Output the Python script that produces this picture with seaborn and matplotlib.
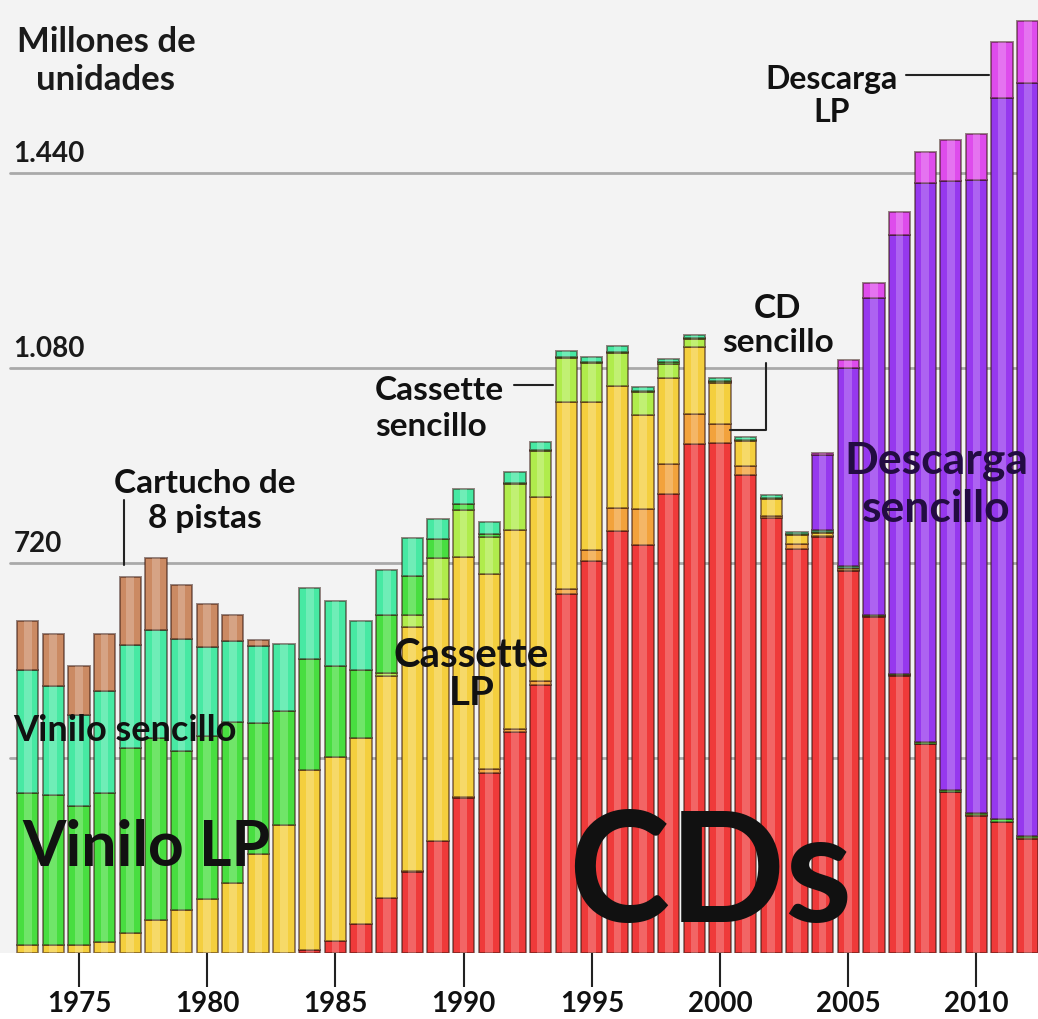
import numpy as np
import pandas as pd
import matplotlib.pyplot as plt
import seaborn as sns

# --- Datos: ventas de música en EE.UU., millones de unidades ---
years = list(range(1973, 2013))

cd = [0, 0, 0, 0, 0, 0, 0, 0, 0, 0,
      0, 5.8, 22.6, 53, 102, 150, 207, 287, 333, 407,
      495, 662, 723, 779, 753, 847, 939, 942, 882, 803,
      746, 767, 705, 620, 511, 385, 297, 253, 241, 211]
cd_single = [0, 0, 0, 0, 0, 0, 0, 0, 0, 0,
             0, 0, 0, 0, 0, 1.6, 0, 1.1, 5.7, 7.3,
             7.8, 9.3, 21.5, 43.2, 66.7, 56, 55.9, 34.2, 17.3, 4.5,
             8.3, 3.1, 2.8, 1.7, 2.6, 0.7, 1, 1, 1, 0.5]
cassette_lp = [14, 14, 14, 21, 37, 61, 80, 100, 130, 182,
               236, 332, 339, 344, 410, 450, 446, 442, 360, 366,
               339, 345, 273, 225, 173, 158, 124, 76, 45, 31,
               17, 5, 2.5, 0.7, 0.4, 0, 0, 0, 0, 0]
cassette_single = [0, 0, 0, 0, 0, 0, 0, 0, 0, 0,
                   0, 0, 0, 0, 5, 22.5, 76, 87, 69, 84.6,
                   85.6, 81, 70.7, 60, 42, 26.4, 14.2, 1.3, 0, 0,
                   0, 0, 0, 0, 0, 0, 0, 0, 0, 0]
vinyl_lp = [282, 278, 258, 275, 342, 336, 292, 300, 297, 242,
            210, 205, 168, 125, 107, 72, 35, 12, 5, 2.3,
            1.2, 1.9, 2.2, 2.9, 2.7, 3.4, 2.9, 2.2, 2.3, 1.7,
            1.5, 1.4, 1, 0.9, 1.3, 2.9, 3.4, 4, 5.5, 4.6]
vinyl_single = [227, 200, 168, 187, 190, 200, 208, 165, 148, 142,
                124, 131, 120, 91, 83, 69, 37, 27, 22, 19.8,
                15.1, 11.7, 10.2, 10.1, 7.5, 5.4, 5.3, 4.8, 5.5, 4.4,
                3.8, 3.5, 2.3, 0, 0, 0, 0, 0, 0, 0]
eight_track = [90, 96, 90, 105, 125, 132, 100, 80, 49, 12,
               0, 0, 0, 0, 0, 0, 0, 0, 0, 0,
               0, 0, 0, 0, 0, 0, 0, 0, 0, 0,
               0, 0, 0, 0, 0, 0, 0, 0, 0, 0]
dl_single = [0, 0, 0, 0, 0, 0, 0, 0, 0, 0,
             0, 0, 0, 0, 0, 0, 0, 0, 0, 0,
             0, 0, 0, 0, 0, 0, 0, 0, 0, 0,
             0, 139, 367, 586, 810, 1033, 1124, 1168, 1330, 1390]
dl_album = [0, 0, 0, 0, 0, 0, 0, 0, 0, 0,
            0, 0, 0, 0, 0, 0, 0, 0, 0, 0,
            0, 0, 0, 0, 0, 0, 0, 0, 0, 0,
            0, 4.6, 13.6, 27.6, 42.5, 57, 74.5, 86, 104.8, 114]

tick_years = [1975, 1980, 1985, 1990, 1995, 2000, 2005, 2010]
grid_values = [360, 720, 1080, 1440]
grid_labels = {720: '720', 1080: '1.080', 1440: '1.440'}

# seaborn stacks the last hue level at the bottom
stack_order = ['Descarga LP', 'Descarga sencillo', 'Cartucho de 8 pistas',
               'Vinilo sencillo', 'Vinilo LP', 'Cassette sencillo',
               'Cassette LP', 'CD sencillo', 'CD']
palette = {'CD': '#ef3a3a', 'CD sencillo': '#f2a23c', 'Cassette LP': '#f4cf3e',
           'Cassette sencillo': '#b0ec4c', 'Vinilo LP': '#48de40',
           'Vinilo sencillo': '#47e9a3', 'Cartucho de 8 pistas': '#cb8a63',
           'Descarga sencillo': '#9638ee', 'Descarga LP': '#de4cec'}

wide = pd.DataFrame({
    'año': years, 'CD': cd, 'CD sencillo': cd_single, 'Cassette LP': cassette_lp,
    'Cassette sencillo': cassette_single, 'Vinilo LP': vinyl_lp,
    'Vinilo sencillo': vinyl_single, 'Cartucho de 8 pistas': eight_track,
    'Descarga sencillo': dl_single, 'Descarga LP': dl_album,
})
df = wide.melt(id_vars='año', var_name='formato', value_name='unidades')

# --- Figura ---
sns.set_style('white')
plt.rcParams['font.family'] = ['Lato', 'DejaVu Sans']
plt.rcParams['font.weight'] = 'bold'

fig = plt.figure(figsize=(10.38, 10.19), dpi=100)
ax = fig.add_axes([0, 66 / 1019, 1, 953 / 1019])
ax.set_facecolor('#f3f3f3')

for v in grid_values:
    ax.axhline(v, xmin=0.01, color='#a9a9a9', lw=2, zorder=1)

sns.histplot(data=df, x='año', weights='unidades', hue='formato',
             hue_order=stack_order, palette=palette, multiple='stack',
             discrete=True, shrink=0.83, alpha=1, linewidth=1.4,
             edgecolor=(0.2, 0.08, 0.05, 0.5), legend=False, ax=ax, zorder=2)
# brillo central de cada barra
sns.histplot(data=df, x='año', weights='unidades', hue='formato',
             hue_order=stack_order, palette=['white'] * 9, multiple='stack',
             discrete=True, shrink=0.3, alpha=0.22, linewidth=0,
             edgecolor='none', legend=False, ax=ax, zorder=3)
for p in ax.patches:
    if p.get_height() == 0:
        p.set_visible(False)

ax.set_xlim(1971.92, 2012.4)
ax.set_ylim(0, 1759)
ax.set_xticks(tick_years)
ax.set_yticks([])
ax.set_xlabel('')
ax.set_ylabel('')
ax.tick_params(axis='x', bottom=True, length=24.5, width=1.5, color='#222222',
               pad=3, labelsize=20, labelcolor='#111111')
for s in ax.spines.values():
    s.set_visible(False)

for v, lab in grid_labels.items():
    ax.text(0.013, v + 20, lab, transform=ax.get_yaxis_transform(),
            ha='left', va='baseline', fontsize=20, color='#1a1a1a')

fig.text(106 / 1038, 1 - 26 / 1019, 'Millones de\nunidades', ha='center', va='top',
         fontsize=25, linespacing=1.25, color='#1a1a1a')

# --- Etiquetas de los formatos ---
txt = dict(color='#111111', zorder=5)
ax.text(1979.9, 834, 'Cartucho de\n8 pistas', ha='center', va='center',
        fontsize=24, linespacing=1.25, **txt)
ax.plot([1976.75, 1976.75], [716, 836], color='#222222', lw=1.5, zorder=4)

ax.text(1972.45, 410, 'Vinilo sencillo', ha='left', va='center', fontsize=26, **txt)
ax.text(1972.8, 194, 'Vinilo LP', ha='left', va='center', fontsize=45, **txt)

ax.text(1986.55, 1005, 'Cassette\nsencillo', ha='left', va='center',
        fontsize=24, linespacing=1.3, **txt)
ax.plot([1991.95, 1993.5], [1049, 1049], color='#222222', lw=1.5, zorder=4)

ax.text(1990.3, 514, 'Cassette\nLP', ha='center', va='center',
        fontsize=29, linespacing=1.05, **txt)

ax.text(2002.25, 1158, 'CD\nsencillo', ha='center', va='center',
        fontsize=24, linespacing=1.2, **txt)
ax.plot([2000.4, 2001.8, 2001.8], [965, 965, 1089], color='#222222', lw=1.5, zorder=4)

ax.text(2004.35, 1582, 'Descarga\nLP', ha='center', va='center',
        fontsize=23, linespacing=1.15, **txt)
ax.plot([2007.25, 2010.5], [1621, 1621], color='#222222', lw=1.5, zorder=4)

ax.text(2008.45, 864, 'Descarga\nsencillo', ha='center', va='center',
        fontsize=32, linespacing=1.25, color='#230c42', zorder=5)

ax.text(1999.6, 57, 'CDs', ha='center', va='baseline', fontsize=110, **txt)

fig.savefig('out.png', dpi=100, facecolor='white')
